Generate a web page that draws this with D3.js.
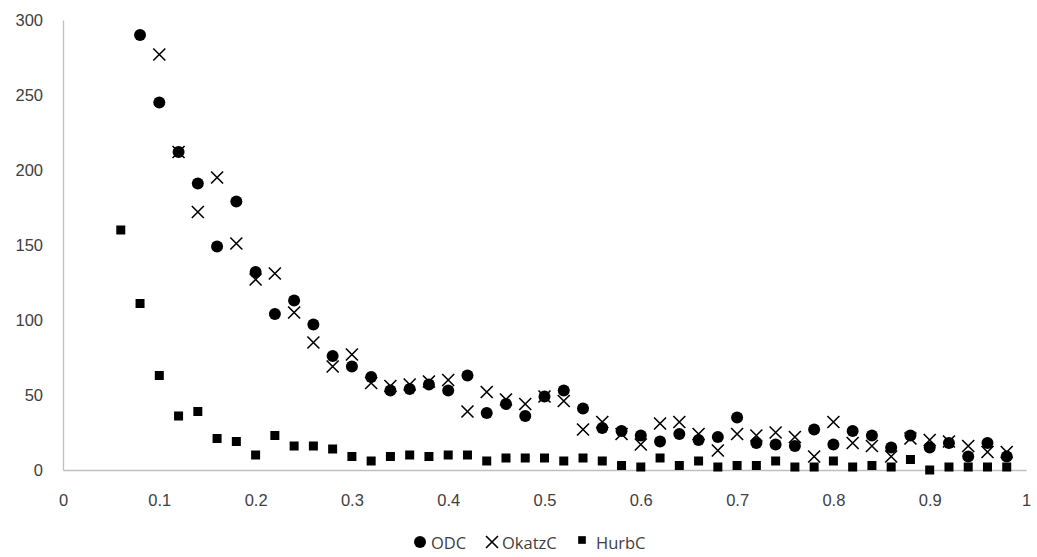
<!DOCTYPE html>
<html>
<head>
<meta charset="utf-8">
<script src="https://cdn.jsdelivr.net/npm/d3@7"></script>
<style>
  body { margin: 0; background: #fff; }
  svg { display: block; font-family: "Open Sans", "Noto Sans", sans-serif; }
  .tick text { fill: #404040; font-size: 16.5px; }
  .legend text { fill: #404040; font-size: 16.5px; }
</style>
</head>
<body>
<div id="container"></div>
<script>
const odcX = [0.08,0.10,0.12,0.14,0.16,0.18,0.20,0.22,0.24,0.26,0.28,0.30,0.32,0.34,0.36,0.38,0.40,0.42,0.44,0.46,0.48,0.50,0.52,0.54,0.56,0.58,0.60,0.62,0.64,0.66,0.68,0.70,0.72,0.74,0.76,0.78,0.80,0.82,0.84,0.86,0.88,0.90,0.92,0.94,0.96,0.98]
const odcY = [290,245,212,191,149,179,132,104,113,97,76,69,62,53,54,57,53,63,38,44,36,49,53,41,28,26,23,19,24,20,22,35,18,17,16,27,17,26,23,15,23,15,18,9,18,9]

const okatzX = [0.10,0.12,0.14,0.16,0.18,0.20,0.22,0.24,0.26,0.28,0.30,0.32,0.34,0.36,0.38,0.40,0.42,0.44,0.46,0.48,0.50,0.52,0.54,0.56,0.58,0.60,0.62,0.64,0.66,0.68,0.70,0.72,0.74,0.76,0.78,0.80,0.82,0.84,0.86,0.88,0.90,0.92,0.94,0.96,0.98]
const okatzY = [277,212,172,195,151,127,131,105,85,69,77,58,56,57,59,60,39,52,47,44,49,46,27,32,24,17,31,32,24,13,24,23,25,22,9,32,18,16,9,21,20,19,16,12,12]

const hurbX = [0.06,0.08,0.10,0.12,0.14,0.16,0.18,0.20,0.22,0.24,0.26,0.28,0.30,0.32,0.34,0.36,0.38,0.40,0.42,0.44,0.46,0.48,0.50,0.52,0.54,0.56,0.58,0.60,0.62,0.64,0.66,0.68,0.70,0.72,0.74,0.76,0.78,0.80,0.82,0.84,0.86,0.88,0.90,0.92,0.94,0.96,0.98]
const hurbY = [160,111,63,36,39,21,19,10,23,16,16,14,9,6,9,10,9,10,10,6,8,8,8,6,8,6,3,2,8,3,6,2,3,3,6,2,2,6,2,3,2,7,0,2,2,2,2]

const xTicks = [0,0.1,0.2,0.3,0.4,0.5,0.6,0.7,0.8,0.9,1]
const yTicks = [0,50,100,150,200,250,300]

const width = 1037
const height = 557
const marginLeft = 63
const marginRight = 11
const marginTop = 20
const marginBottom = 87

const x = d3.scaleLinear()
    .domain([0, 1])
    .range([marginLeft, width - marginRight])

const y = d3.scaleLinear()
    .domain([0, 300])
    .range([height - marginBottom, marginTop])

const svg = d3.create("svg")
    .attr("width", width)
    .attr("height", height)

// axes
const xAxis = svg.append("g")
    .attr("transform", `translate(0,${height - marginBottom})`)
    .call(d3.axisBottom(x).tickValues(xTicks).tickSize(0).tickPadding(24).tickFormat(d => d3.format("")(d)))
xAxis.select(".domain").attr("stroke", "#bfbfbf").attr("stroke-width", 1.3)

const yAxis = svg.append("g")
    .attr("transform", `translate(${marginLeft},0)`)
    .call(d3.axisLeft(y).tickValues(yTicks).tickSize(0).tickPadding(20))
yAxis.select(".domain").attr("stroke", "#bfbfbf").attr("stroke-width", 1.3)
yAxis.selectAll(".tick text").attr("dy", "0.35em")

const series = [
    {name: "ODC", xs: odcX, ys: odcY, shape: "circle"},
    {name: "OkatzC", xs: okatzX, ys: okatzY, shape: "cross"},
    {name: "HurbC", xs: hurbX, ys: hurbY, shape: "square"}
]

function drawMarker(g, shape, cx, cy, s) {
    if (shape === "circle") {
        g.append("circle").attr("cx", cx).attr("cy", cy).attr("r", 6 * s).attr("fill", "#000")
    } else if (shape === "square") {
        g.append("rect").attr("x", cx - 4.5 * s).attr("y", cy - 4.5 * s)
            .attr("width", 9 * s).attr("height", 9 * s).attr("fill", "#000")
    } else {
        const h = 6 * s
        g.append("path")
            .attr("d", `M${cx - h},${cy - h}L${cx + h},${cy + h}M${cx - h},${cy + h}L${cx + h},${cy - h}`)
            .attr("stroke", "#000").attr("stroke-width", 1.6).attr("fill", "none")
    }
}

series.forEach(sr => {
    const g = svg.append("g").attr("class", "series")
    sr.xs.forEach((xv, i) => drawMarker(g, sr.shape, x(xv), y(sr.ys[i]), 1))
})

// legend
const legend = svg.append("g").attr("class", "legend")
const legendItems = [
    {name: "ODC", shape: "circle", mx: 420, my: 542, s: 1, tx: 431},
    {name: "OkatzC", shape: "cross", mx: 492, my: 542, s: 1, tx: 502},
    {name: "HurbC", shape: "square", mx: 582, my: 540, s: 0.85, tx: 596}
]
legendItems.forEach(it => {
    drawMarker(legend, it.shape, it.mx, it.my, it.s)
    legend.append("text")
        .attr("x", it.tx)
        .attr("y", 543)
        .attr("dy", "0.35em")
        .text(it.name)
})

document.querySelector("#container").appendChild(svg.node())
</script>
</body>
</html>
